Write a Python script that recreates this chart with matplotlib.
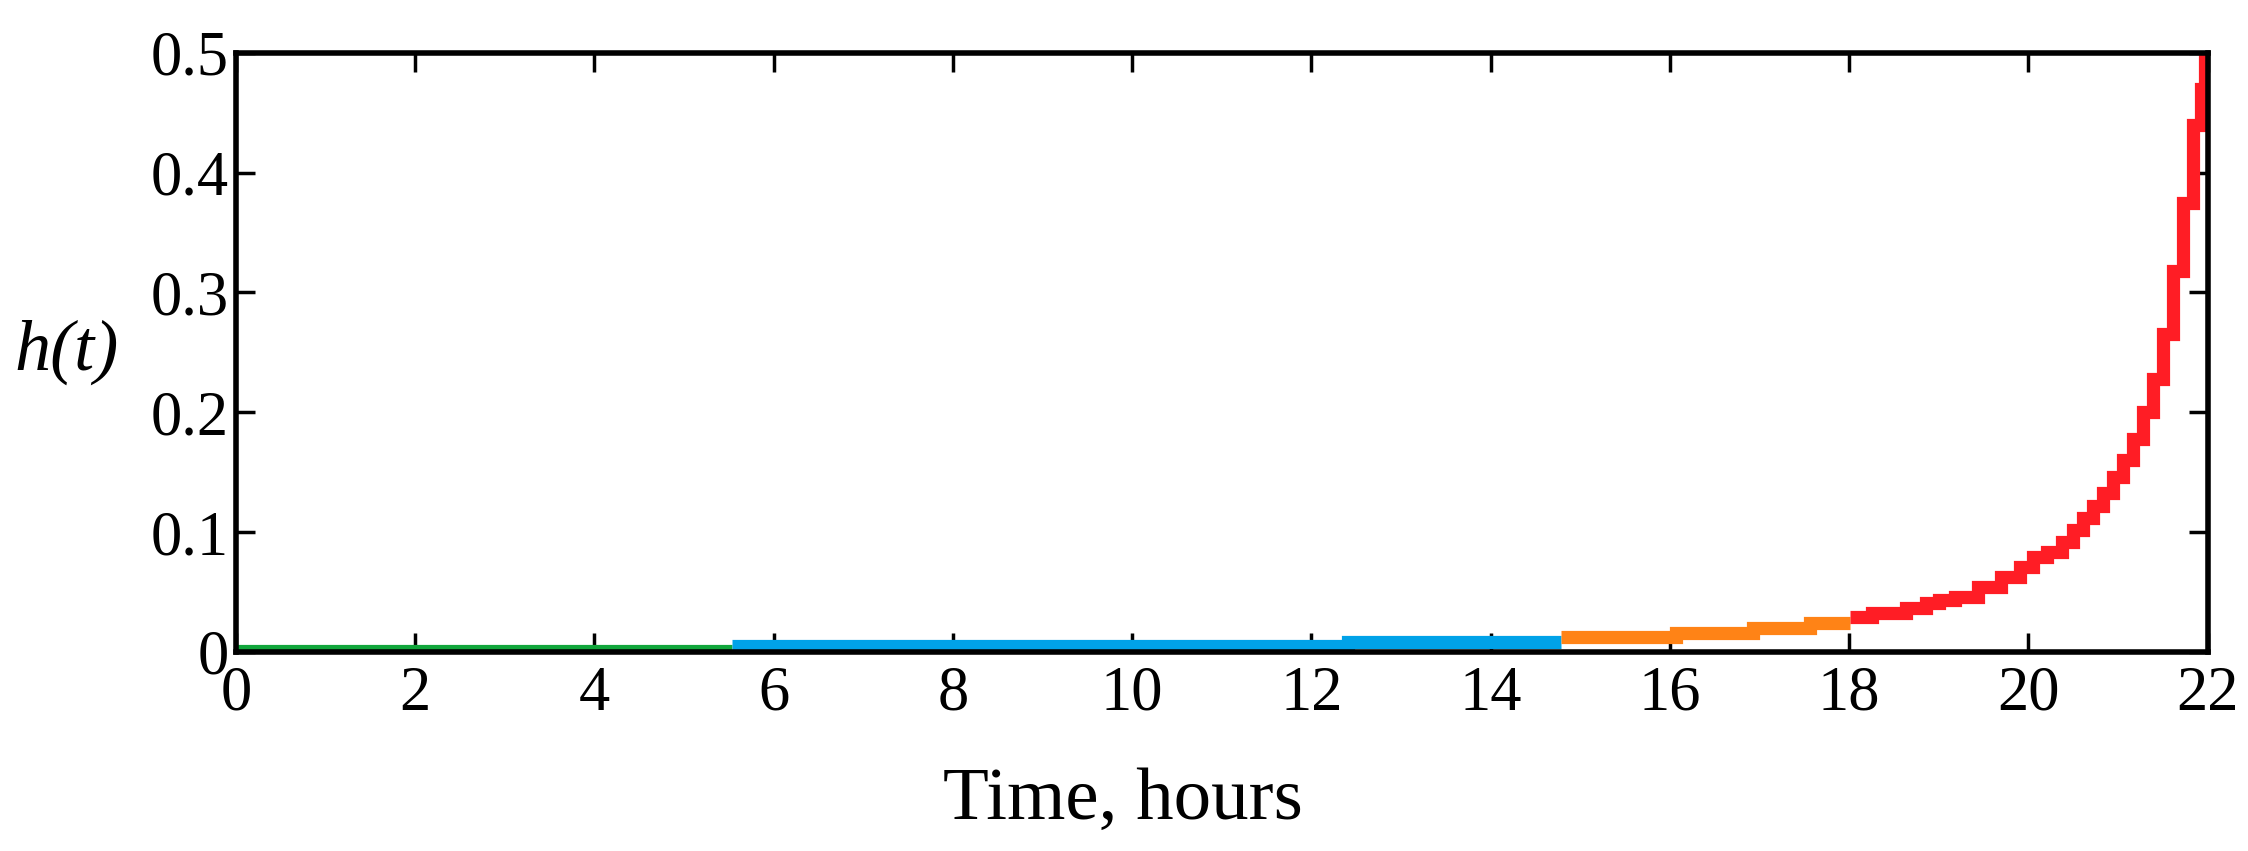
import matplotlib
matplotlib.use('Agg')
import matplotlib.pyplot as plt

plt.rcParams['font.family'] = ['Liberation Serif', 'DejaVu Serif']

# hazard rate, split by colour band
green_t = [0.0, 5.53]
green_h = [0.001, 0.001]

blue_t = [5.53, 12.41, 14.78]
blue_h = [0.005, 0.008, 0.008]

orange_t = [14.78, 16.07, 16.93, 17.56, 18.01]
orange_h = [0.012, 0.016, 0.020, 0.024, 0.024]

red_t = [18.01, 18.5, 18.78, 18.93, 19.08, 19.28, 19.59, 19.81, 20.0, 20.1,
         20.31, 20.44, 20.55, 20.67, 20.78, 20.89, 21.0, 21.11, 21.23, 21.34,
         21.45, 21.56, 21.67, 21.78, 21.9, 21.95, 22.0]
red_h = [0.0288, 0.0328, 0.037, 0.041, 0.043, 0.0456, 0.054, 0.0625, 0.071, 0.079,
         0.083, 0.092, 0.102, 0.112, 0.122, 0.133, 0.146, 0.16, 0.178, 0.2,
         0.228, 0.265, 0.318, 0.375, 0.44, 0.47, 0.52]

xticks = [0, 2, 4, 6, 8, 10, 12, 14, 16, 18, 20, 22]
yticks = [0, 0.1, 0.2, 0.3, 0.4, 0.5]
ytick_labels = ['0', '0.1', '0.2', '0.3', '0.4', '0.5']

colors = ['#11a63b', '#00a2e8', '#ff8316', '#ff1d25']
lw = 9.5

fig = plt.figure(figsize=(22.48, 8.51), dpi=100)
ax = fig.add_axes([0.105, 0.234, 0.877, 0.704])

kw = dict(linewidth=lw, solid_joinstyle='miter', solid_capstyle='butt')
ax.plot(green_t, green_h, drawstyle='steps-post', color=colors[0], **kw)
ax.plot(blue_t, blue_h, drawstyle='steps-post', color=colors[1], **kw)
ax.plot(orange_t, orange_h, drawstyle='steps-post', color=colors[2], **kw)
ax.plot(red_t, red_h, drawstyle='steps-mid', color=colors[3], **kw)

ax.set_xlim(0, 22)
ax.set_ylim(0, 0.5)
ax.set_xticks(xticks)
ax.set_xticklabels([str(x) for x in xticks])
ax.set_yticks(yticks)
ax.set_yticklabels(ytick_labels)

for s in ax.spines.values():
    s.set_linewidth(4)
    s.set_zorder(5)

ax.tick_params(axis='both', which='major', direction='in', length=14, width=2.5,
               top=True, right=True, labelsize=45, color='black')
ax.tick_params(axis='x', pad=10)
ax.tick_params(axis='y', pad=5)

ax.set_xlabel('Time, hours', fontsize=54, va='center')
ax.xaxis.set_label_coords(0.45, -0.25)
ax.set_ylabel('h(t)', fontsize=52, style='italic', rotation=0, va='center', ha='center')
ax.yaxis.set_label_coords(-0.086, 0.5)

fig.savefig('out.png', dpi=100)
